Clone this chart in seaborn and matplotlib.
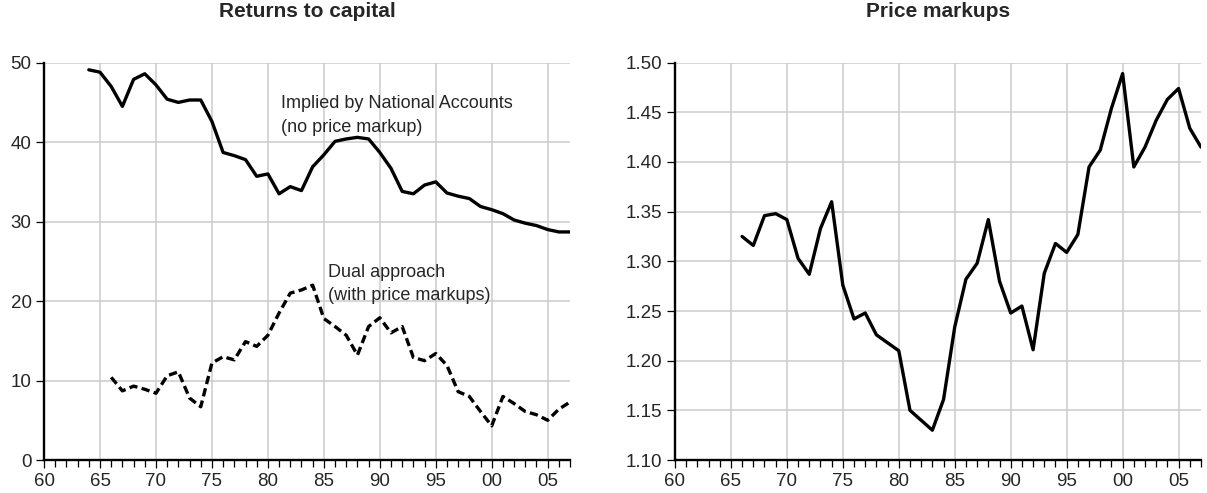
import numpy as np
import pandas as pd
import matplotlib
matplotlib.use("Agg")
import matplotlib.pyplot as plt
import seaborn as sns
from matplotlib.ticker import MultipleLocator

# ---- data ----
years_na = list(range(1964, 2008))
national_accounts = [49.1, 48.8, 47.0, 44.5, 47.9, 48.6, 47.2, 45.4, 45.0, 45.3,
                     45.3, 42.6, 38.7, 38.3, 37.8, 35.7, 36.0, 33.5, 34.4, 33.9,
                     36.9, 38.4, 40.1, 40.4, 40.6, 40.4, 38.7, 36.7, 33.8, 33.5,
                     34.6, 35.0, 33.6, 33.2, 32.9, 31.9, 31.5, 31.0, 30.2, 29.8,
                     29.5, 29.0, 28.7, 28.7]

years_dual = list(range(1966, 2008))
dual_approach = [10.4, 8.7, 9.3, 8.9, 8.4, 10.6, 11.1, 7.8, 6.7, 12.2,
                 13.0, 12.6, 14.9, 14.3, 15.7, 18.5, 21.0, 21.4, 22.0, 17.8,
                 16.8, 15.7, 13.2, 16.8, 17.9, 16.0, 16.8, 12.9, 12.5, 13.4,
                 11.9, 8.6, 8.0, 6.1, 4.3, 8.0, 7.1, 6.1, 5.7, 5.0,
                 6.4, 7.3]

years_markup = list(range(1966, 2008))
price_markup = [1.325, 1.316, 1.346, 1.348, 1.342, 1.303, 1.287, 1.333, 1.360, 1.276,
                1.242, 1.248, 1.226, 1.218, 1.210, 1.150, 1.140, 1.130, 1.161, 1.234,
                1.282, 1.298, 1.342, 1.280, 1.248, 1.255, 1.211, 1.288, 1.318, 1.309,
                1.327, 1.395, 1.412, 1.454, 1.489, 1.395, 1.415, 1.442, 1.463, 1.474,
                1.434, 1.415]

xtick_years = [1960, 1965, 1970, 1975, 1980, 1985, 1990, 1995, 2000, 2005]
xtick_labels = ["60", "65", "70", "75", "80", "85", "90", "95", "00", "05"]
left_yticks = [0, 10, 20, 30, 40, 50]
right_yticks = [1.10, 1.15, 1.20, 1.25, 1.30, 1.35, 1.40, 1.45, 1.50]

sns.set_style("white")
plt.rcParams['font.family'] = ['Liberation Sans', 'DejaVu Sans']

fig = plt.figure(figsize=(12.07, 4.93), dpi=100)
ax1 = fig.add_axes([0.0365, 0.0669, 0.4358, 0.806])
ax2 = fig.add_axes([0.5592, 0.0669, 0.4358, 0.806])

df_na = pd.DataFrame({"year": years_na, "value": national_accounts})
df_dual = pd.DataFrame({"year": years_dual, "value": dual_approach})
df_mk = pd.DataFrame({"year": years_markup, "value": price_markup})

sns.lineplot(data=df_na, x="year", y="value", ax=ax1, color="black", lw=2.4)
sns.lineplot(data=df_dual, x="year", y="value", ax=ax1, color="black", lw=2.4,
             linestyle=(0, (2.5, 1.3)))
sns.lineplot(data=df_mk, x="year", y="value", ax=ax2, color="black", lw=2.4)


def style_axis(ax, yticks, fmt):
    ax.set_xlim(1960, 2007)
    ax.set_ylim(yticks[0], yticks[-1])
    ax.set_xticks(xtick_years)
    ax.set_xticklabels(xtick_labels)
    ax.xaxis.set_minor_locator(MultipleLocator(1))
    ax.set_yticks(yticks)
    ax.set_yticklabels([fmt.format(v) for v in yticks])
    ax.set_xlabel("")
    ax.set_ylabel("")
    ax.grid(True, which="major", color="#cccccc", lw=1.1)
    ax.set_axisbelow(True)
    for s in ["top", "right"]:
        ax.spines[s].set_visible(False)
    for s in ["left", "bottom"]:
        ax.spines[s].set_color("black")
        ax.spines[s].set_linewidth(1.7)
    ax.tick_params(axis="both", which="major", direction="out", length=6, width=0.9,
                   color="black", labelsize=13.5, pad=3, bottom=True, left=True)
    ax.tick_params(axis="x", which="minor", direction="out", length=5, width=0.9,
                   color="black", bottom=True)


style_axis(ax1, left_yticks, "{:.0f}")
style_axis(ax2, right_yticks, "{:.2f}")

ax1.set_title("Returns to capital", fontsize=15, fontweight="bold", pad=33)
ax2.set_title("Price markups", fontsize=15, fontweight="bold", pad=33)

ax1.text(1981.2, 44.9, "Implied by National Accounts", fontsize=13, va="center")
ax1.text(1981.2, 41.8, "(no price markup)", fontsize=13, va="center")
ax1.text(1985.4, 23.6, "Dual approach", fontsize=13, va="center")
ax1.text(1985.4, 20.7, "(with price markups)", fontsize=13, va="center")

fig.savefig("out.png", dpi=100)
